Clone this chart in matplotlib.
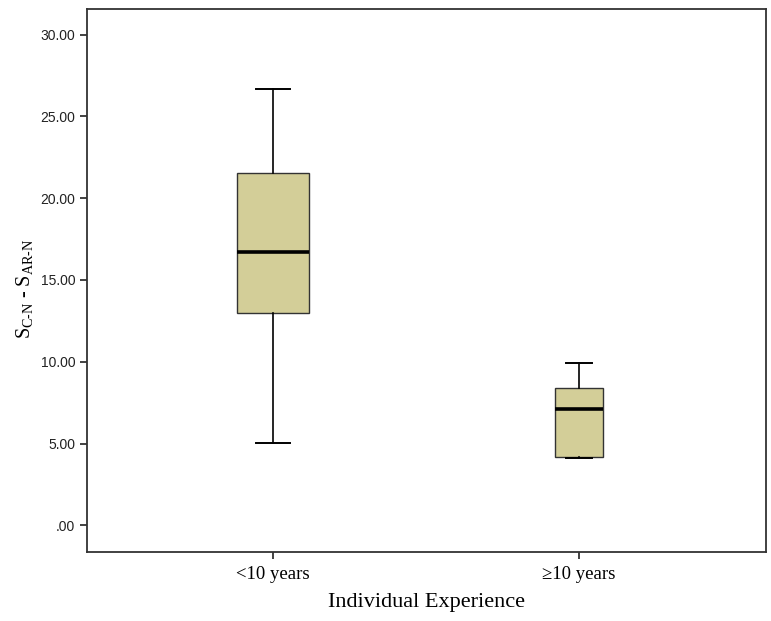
import matplotlib
matplotlib.use("Agg")
import matplotlib.pyplot as plt

plt.rcParams["mathtext.fontset"] = "custom"
plt.rcParams["mathtext.rm"] = "Liberation Serif"
plt.rcParams["mathtext.it"] = "Liberation Serif:italic"
plt.rcParams["mathtext.bf"] = "Liberation Serif:bold"

categories = ["<10 years", "\u226510 years"]
whislo = [5.05, 4.1]
q1 = [13.0, 4.2]
med = [16.7, 7.1]
q3 = [21.55, 8.42]
whishi = [26.68, 9.9]
yticks = [0, 5, 10, 15, 20, 25, 30]
ytick_labels = [".00", "5.00", "10.00", "15.00", "20.00", "25.00", "30.00"]

fig = plt.figure(figsize=(7.71, 6.21), dpi=100)
ax = fig.add_axes([0.1128, 0.111, 0.8807, 0.8744])

stats = []
for i, c in enumerate(categories):
    stats.append(dict(label=c, whislo=whislo[i], q1=q1[i], med=med[i],
                      q3=q3[i], whishi=whishi[i], fliers=[]))

ax.bxp(stats, positions=[1, 2], widths=[0.237, 0.157], capwidths=[0.114, 0.082],
       patch_artist=True, showfliers=False,
       boxprops=dict(facecolor="#d3ce98", edgecolor="#333333", linewidth=1.0),
       medianprops=dict(color="black", linewidth=2.6),
       whiskerprops=dict(color="black", linewidth=1.2),
       capprops=dict(color="black", linewidth=1.4))

ax.set_xlim(0.392, 2.611)
ax.set_ylim(-1.63, 31.56)
ax.set_yticks(yticks)
ax.set_yticklabels(ytick_labels, family="Liberation Sans", fontsize=10, color="#222222")
ax.set_xticks([1, 2])
ax.set_xticklabels(categories, family="Liberation Serif", fontsize=13.5)
for s in ax.spines.values():
    s.set_linewidth(1.3)
    s.set_color("#333333")
ax.tick_params(axis="both", length=5, width=1.3, color="#333333")
ax.tick_params(axis="x", pad=5)
ax.set_xlabel("Individual Experience", family="Liberation Serif", fontsize=16, labelpad=7)
ax.set_ylabel(r"S$_{\mathrm{C\text{-}N}}$ - S$_{\mathrm{AR\text{-}N}}$", family="Liberation Serif", fontsize=14.5)
ax.yaxis.set_label_coords(-0.077, 0.484)

fig.savefig("out.png", dpi=100)
